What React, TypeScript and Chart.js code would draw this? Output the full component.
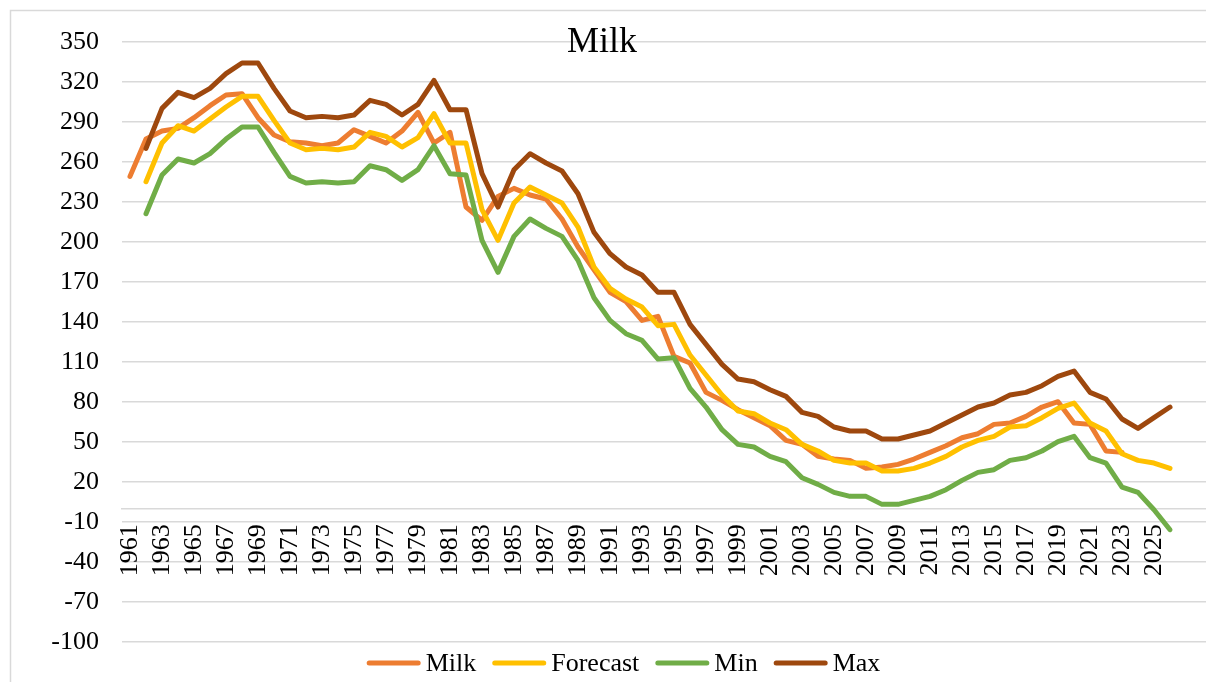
import { useEffect, useRef } from "react";
import { Chart, registerables } from "chart.js";

Chart.register(...registerables);

// Years on the horizontal axis
const years = [
  1961, 1962, 1963, 1964, 1965, 1966, 1967, 1968, 1969, 1970,
  1971, 1972, 1973, 1974, 1975, 1976, 1977, 1978, 1979, 1980,
  1981, 1982, 1983, 1984, 1985, 1986, 1987, 1988, 1989, 1990,
  1991, 1992, 1993, 1994, 1995, 1996, 1997, 1998, 1999, 2000,
  2001, 2002, 2003, 2004, 2005, 2006, 2007, 2008, 2009, 2010,
  2011, 2012, 2013, 2014, 2015, 2016, 2017, 2018, 2019, 2020,
  2021, 2022, 2023, 2024, 2025, 2026,
];

// Observed milk series (1961–2023)
const milk = [
  249, 277, 283, 285, 293, 302, 310, 311, 293, 280,
  275, 274, 272, 274, 284, 279, 274, 283, 297, 274,
  282, 226, 216, 234, 240, 235, 232, 217, 196, 179,
  162, 155, 141, 144, 114, 109, 87, 81, 74, 68,
  62, 51, 48, 39, 37, 36, 30, 31, 33, 37,
  42, 47, 53, 56, 63, 64, 69, 76, 80, 64,
  63, 43, 42, null, null, null,
];

// One-step forecast (1962–2026)
const forecast = [
  null, 245, 274, 287, 283, 292, 301, 309, 309, 291,
  274, 269, 270, 269, 271, 282, 279, 271, 278, 296,
  274, 274, 224, 201, 229, 241, 235, 229, 211, 181,
  165, 157, 151, 137, 138, 115, 100, 85, 73, 71,
  64, 59, 48, 43, 36, 34, 34, 28, 28, 30,
  34, 39, 46, 51, 54, 61, 62, 68, 75, 79,
  64, 58, 41, 36, 34, 30,
];

// Lower bound
const minBound = [
  null, 221, 250, 262, 259, 266, 277, 286, 286, 267,
  249, 244, 245, 244, 245, 257, 254, 246, 254, 272,
  251, 250, 201, 177, 204, 217, 210, 204, 186, 158,
  141, 131, 126, 112, 113, 90, 76, 59, 48, 46,
  39, 35, 23, 18, 12, 9, 9, 3, 3, 6,
  9, 14, 21, 27, 29, 36, 38, 43, 50, 54,
  38, 34, 16, 12, -1, -16,
];

// Upper bound
const maxBound = [
  null, 270, 300, 312, 308, 315, 326, 334, 334, 315,
  298, 293, 294, 293, 295, 306, 303, 295, 303, 321,
  299, 299, 251, 226, 254, 266, 259, 253, 236, 207,
  191, 181, 175, 162, 162, 138, 123, 108, 97, 95,
  89, 84, 72, 69, 61, 58, 58, 52, 52, 55,
  58, 64, 70, 76, 79, 85, 87, 92, 99, 103,
  87, 82, 67, 60, 68, 76,
];

// Axis ticks
const xTickYears = [
  1961, 1963, 1965, 1967, 1969, 1971, 1973, 1975, 1977, 1979,
  1981, 1983, 1985, 1987, 1989, 1991, 1993, 1995, 1997, 1999,
  2001, 2003, 2005, 2007, 2009, 2011, 2013, 2015, 2017, 2019,
  2021, 2023, 2025,
];
const yTicks = [-100, -70, -40, -10, 20, 50, 80, 110, 140, 170, 200, 230, 260, 290, 320, 350];

const seriesNames = ["Milk", "Forecast", "Min", "Max"];
const seriesColors = ["#ED7D31", "#FFC000", "#70AD47", "#9E480E"];
const chartTitle = "Milk";

const FONT = '"Liberation Serif", "Times New Roman", serif';

const toPoints = (vals: (number | null)[]) =>
  years.map((yr, i) => ({ x: yr, y: vals[i] }));

export default function App() {
  const canvasRef = useRef<HTMLCanvasElement | null>(null);

  useEffect(() => {
    const canvas = canvasRef.current;
    if (!canvas) return;

    const frame = {
      id: "frame",
      beforeDraw(chart: any) {
        const ctx = chart.ctx;
        ctx.save();
        ctx.fillStyle = "#ffffff";
        ctx.fillRect(0, 0, chart.width, chart.height);
        ctx.strokeStyle = "#d9d9d9";
        ctx.lineWidth = 1.5;
        ctx.strokeRect(10.5, 10.5, chart.width + 40, chart.height + 40);
        ctx.restore();
      },
    };

    const titleAndLegend = {
      id: "titleAndLegend",
      afterDraw(chart: any) {
        const ctx = chart.ctx;
        ctx.save();
        ctx.fillStyle = "#000";
        ctx.font = `36px ${FONT}`;
        ctx.textAlign = "center";
        ctx.textBaseline = "alphabetic";
        ctx.fillText(chartTitle, 602, 52);

        ctx.font = `26px ${FONT}`;
        const lineLen = 54;
        const gapText = 5;
        const gapItem = 16;
        const widths = seriesNames.map((n) => ctx.measureText(n).width);
        const total =
          widths.reduce((a, b) => a + b, 0) +
          seriesNames.length * (lineLen + gapText) +
          (seriesNames.length - 1) * gapItem;
        let x = 623.5 - total / 2;
        const y = 663;
        ctx.textAlign = "left";
        ctx.textBaseline = "middle";
        seriesNames.forEach((name, i) => {
          ctx.strokeStyle = seriesColors[i];
          ctx.lineWidth = 5;
          ctx.lineCap = "round";
          ctx.beginPath();
          ctx.moveTo(x + 2.5, y);
          ctx.lineTo(x + lineLen - 2.5, y);
          ctx.stroke();
          x += lineLen + gapText;
          ctx.fillStyle = "#000";
          ctx.fillText(name, x, y + 1);
          x += widths[i] + gapItem;
        });
        ctx.restore();
      },
    };

    const seriesValues = [milk, forecast, minBound, maxBound];
    const drawOrder = [3, 2, 1, 0];

    const chart = new Chart(canvas, {
      type: "line",
      data: {
        datasets: seriesNames.map((name, i) => ({
          label: name,
          data: toPoints(seriesValues[i]),
          borderColor: seriesColors[i],
          backgroundColor: seriesColors[i],
          borderWidth: 5,
          borderCapStyle: "round",
          borderJoinStyle: "round",
          pointRadius: 0,
          tension: 0,
          spanGaps: false,
          order: drawOrder[i],
        })),
      },
      options: {
        responsive: false,
        animation: false,
        devicePixelRatio: 1,
        layout: { padding: { left: 0, right: 0, top: 41.7, bottom: 40.3 } },
        plugins: {
          legend: { display: false },
          title: { display: false },
          tooltip: { enabled: false },
        },
        scales: {
          x: {
            type: "linear",
            position: { y: 0 },
            min: 1960.5,
            max: 2028.25,
            grid: { display: false, drawTicks: false },
            border: { display: true, color: "#d9d9d9", width: 1.5 },
            afterBuildTicks: (scale: any) => {
              scale.ticks = xTickYears.map((v) => ({ value: v }));
            },
            ticks: {
              autoSkip: false,
              minRotation: 90,
              maxRotation: 90,
              padding: 16,
              color: "#000",
              font: { family: FONT, size: 26 },
              callback: (v: any) => String(v),
            },
          },
          y: {
            type: "linear",
            min: -100,
            max: 350,
            afterFit: (scale: any) => {
              scale.width = 122;
            },
            afterBuildTicks: (scale: any) => {
              scale.ticks = yTicks.map((v) => ({ value: v }));
            },
            grid: { color: "#d9d9d9", lineWidth: 1.5, drawTicks: false },
            border: { display: false },
            ticks: {
              padding: 23,
              color: "#000",
              font: { family: FONT, size: 26 },
              callback: (v: any) => String(v),
            },
          },
        },
      } as any,
      plugins: [frame, titleAndLegend],
    });

    return () => chart.destroy();
  }, []);

  return (
    <div
      style={{
        position: "fixed",
        left: 0,
        top: 0,
        width: 1206,
        height: 682,
        overflow: "hidden",
        background: "#fff",
      }}
    >
      <canvas ref={canvasRef} width={1206} height={682} />
    </div>
  );
}
